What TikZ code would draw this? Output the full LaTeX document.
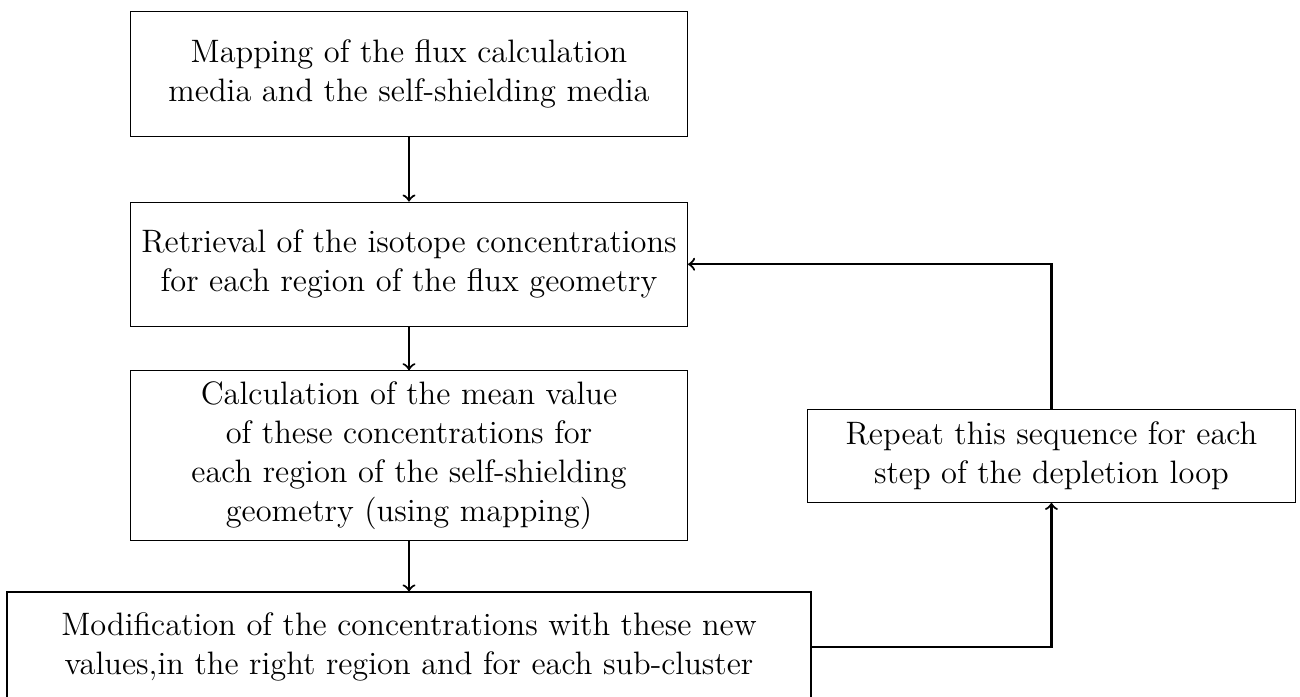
\documentclass[tikz,border=0pt,12pt]{standalone}
\usepackage{tikz}
\usetikzlibrary{positioning}

\begin{document}
\begin{tikzpicture}[x=0.37pt,y=0.37pt,
    box/.style={draw,align=center,inner sep=4pt},
    flow/.style={->,thick}]
    \useasboundingbox (0,0) rectangle (1300,697);

    \node[box,minimum width=206pt,minimum height=46pt] (map) at (409,623) {Mapping of the flux calculation\\media and the self-shielding media};
    \node[box,minimum width=206pt,minimum height=46pt,below=24pt of map] (retr) {Retrieval of the isotope concentrations\\for each region of the flux geometry};
    \node[box,minimum width=206pt,minimum height=62.5pt,below=16pt of retr] (calc) {Calculation of the mean value\\of these concentrations for\\each region of the self-shielding\\geometry (using mapping)};
    \node[box,minimum width=297.5pt,minimum height=40.7pt,below=18.5pt of calc] (modif) {Modification of the concentrations with these new\\values,in the right region and for each sub-cluster};
    \node[box,minimum width=180.6pt,minimum height=34.4pt,right=44pt of calc] (rep) {Repeat this sequence for each\\step of the depletion loop};

    \draw[flow] (map) -- (retr);
    \draw[flow] (retr) -- (calc);
    \draw[flow] (calc) -- (modif);
    \draw[flow] (modif.east) -| (rep.south);
    \draw[flow] (rep.north) |- (retr.east);
\end{tikzpicture}
\end{document}
